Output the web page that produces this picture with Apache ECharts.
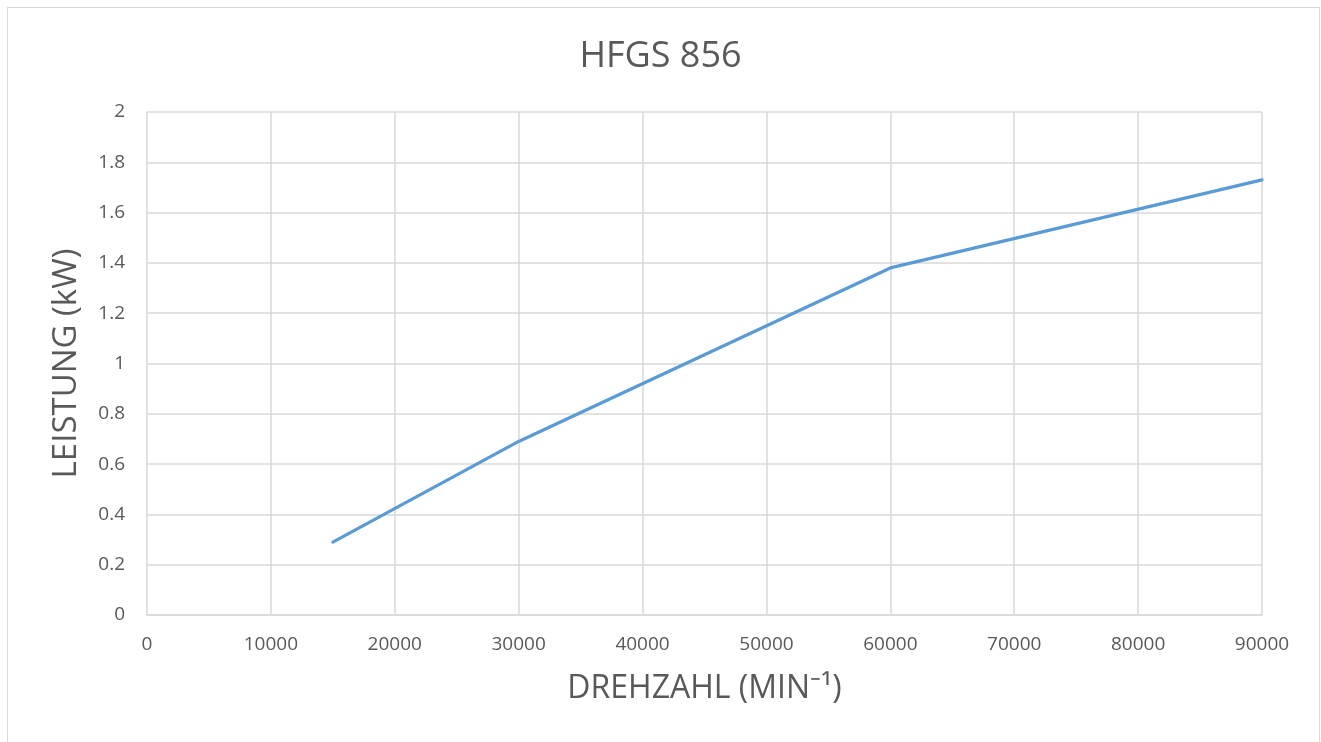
<!DOCTYPE html>
<html>
<head>
<meta charset="utf-8">
<script src="https://cdn.jsdelivr.net/npm/echarts@6.0.0/dist/echarts.min.js"></script>
<style>
  html, body { margin: 0; padding: 0; background: #fff; }
  #frame { position: absolute; left: 7px; top: 7px; width: 1313px; height: 740px; border: 1px solid #d9d9d9; box-sizing: border-box; }
  #chart { position: absolute; left: 0; top: 0; width: 1321px; height: 742px; }
</style>
</head>
<body>
<div id="frame"></div>
<div id="chart"></div>
<script>
// Drehzahl (min^-1) und Leistung (kW)
const drehzahl = [15000, 30000, 60000, 90000];
const leistung = [0.29, 0.69, 1.38, 1.73];

const titel = 'HFGS 856';
const xName = 'DREHZAHL (MIN\u207B\u00B9)';
const yName = 'LEISTUNG (kW)';

const fontFam = '"Open Sans", "Liberation Sans", sans-serif';
const gridCol = '#d9d9d9';
const textCol = '#595959';

const chart = echarts.init(document.getElementById('chart'), null, { renderer: 'canvas' });
chart.setOption({
    backgroundColor: 'transparent',
    animation: false,
    title: {
        text: titel, left: 'center', top: 34,
        textStyle: { fontFamily: fontFam, fontSize: 36, fontWeight: 'normal', color: textCol }
    },
    grid: { left: 147, right: 59, top: 112, bottom: 127, containLabel: false },
    xAxis: {
        type: 'value', min: 0, max: 90000, interval: 10000,
        name: xName, nameLocation: 'middle', nameGap: 58,
        nameTextStyle: { fontFamily: fontFam, fontSize: 32, color: textCol },
        axisLine: { show: true, lineStyle: { color: gridCol, width: 1.5 } },
        axisTick: { show: false },
        axisLabel: {
            fontFamily: fontFam, fontSize: 19, color: textCol, margin: 20,
            formatter: v => String(v)
        },
        splitLine: { show: true, lineStyle: { color: gridCol, width: 1.5 } }
    },
    yAxis: {
        type: 'value', min: 0, max: 2, interval: 0.2,
        name: yName, nameLocation: 'middle', nameGap: 64, nameRotate: 90,
        nameTextStyle: { fontFamily: fontFam, fontSize: 33, color: textCol },
        axisLine: { show: false },
        axisTick: { show: false },
        axisLabel: {
            fontFamily: fontFam, fontSize: 19, color: textCol, margin: 22,
            formatter: v => String(Math.round(v * 10) / 10)
        },
        splitLine: { show: true, lineStyle: { color: gridCol, width: 1.5 } }
    },
    series: [{
        type: 'line',
        data: drehzahl.map((x, i) => [x, leistung[i]]),
        showSymbol: false,
        lineStyle: { color: '#5b9bd5', width: 3.2, cap: 'round', join: 'round' },
        itemStyle: { color: '#5b9bd5' }
    }]
});
</script>
</body>
</html>
